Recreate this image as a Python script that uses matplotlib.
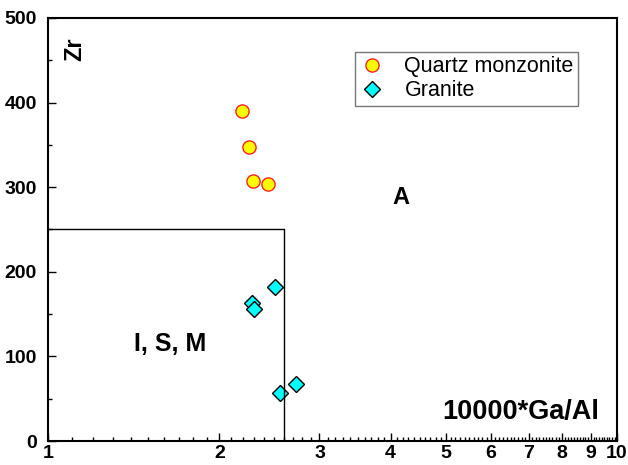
import matplotlib
matplotlib.use("Agg")
import matplotlib.pyplot as plt
from matplotlib.ticker import FixedLocator, FixedFormatter, MultipleLocator, NullFormatter

plt.rcParams['font.family'] = ['Liberation Sans', 'DejaVu Sans']

# Ga/Al vs Zr discrimination data
qm_gaal = [2.19, 2.26, 2.29, 2.44]
qm_zr = [390, 347, 307, 304]

gr_gaal = [2.51, 2.28, 2.30, 2.56, 2.73]
gr_zr = [182, 163, 156, 57, 67]

# boundary of the I, S, M field
field_gaal = 2.6
field_zr = 250

x_ticks = [1, 2, 3, 4, 5, 6, 7, 8, 9, 10]

fig = plt.figure(figsize=(6.28, 4.65), dpi=100)
ax = fig.add_axes([48 / 628, 24 / 465, 569 / 628, 423 / 465])

ax.plot(qm_gaal, qm_zr, 'o', ms=9.5, mfc='#ffff00', mec='#ff2020', mew=1.0,
        ls='none', label='Quartz monzonite')
ax.plot(gr_gaal, gr_zr, 'D', ms=8, mfc='#00ffff', mec='black', mew=1.0,
        ls='none', label='Granite')

ax.plot([1, field_gaal, field_gaal], [field_zr, field_zr, 0], color='black', lw=1.0)

ax.set_xscale('log')
ax.set_xlim(1, 10)
ax.set_ylim(0, 500)

ax.xaxis.set_major_locator(FixedLocator(x_ticks))
ax.xaxis.set_major_formatter(FixedFormatter([str(v) for v in x_ticks]))
minor = [round(1 + 0.1 * i, 1) for i in range(1, 90)]
ax.xaxis.set_minor_locator(FixedLocator([m for m in minor if m not in x_ticks]))
ax.xaxis.set_minor_formatter(NullFormatter())
ax.yaxis.set_major_locator(MultipleLocator(100))
ax.yaxis.set_minor_locator(MultipleLocator(50))

ax.tick_params(which='both', direction='in', top=False, right=False, width=1.0)
ax.tick_params(which='major', length=6, labelsize=14)
ax.tick_params(axis='x', which='major', pad=3)
ax.tick_params(axis='y', which='major', pad=8)
ax.tick_params(which='minor', length=3)
for lab in ax.get_xticklabels() + ax.get_yticklabels():
    lab.set_fontweight('bold')

for s in ax.spines.values():
    s.set_linewidth(1.5)

ax.text(1.116, 463, 'Zr', rotation=90, fontsize=17, fontweight='bold',
        ha='center', va='center')
ax.text(6.78, 34, '10000*Ga/Al', fontsize=19.5, fontweight='bold',
        ha='center', va='center')
ax.text(4.17, 288, 'A', fontsize=17, fontweight='bold', ha='center', va='center')
ax.text(1.64, 115, 'I, S, M', fontsize=18, fontweight='bold', ha='center', va='center')

leg = ax.legend(loc='upper left', bbox_to_anchor=(0.5395, 0.92), fontsize=15.5,
                frameon=True, fancybox=False, edgecolor='#555555',
                handletextpad=0.9, borderpad=0.2, labelspacing=0.15,
                handlelength=1.2, borderaxespad=0)
leg.get_frame().set_linewidth(1.0)

fig.savefig('out.png', dpi=100)
